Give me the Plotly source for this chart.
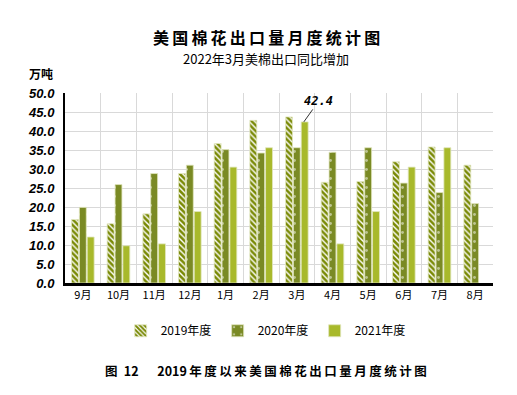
import plotly.graph_objects as go

months = ["9月", "10月", "11月", "12月", "1月", "2月", "3月", "4月", "5月", "6月", "7月", "8月"]
y2019 = [16.7, 15.6, 18.2, 28.8, 36.7, 42.8, 43.7, 26.5, 26.7, 31.9, 35.8, 31.0]
y2020 = [19.9, 25.9, 28.8, 31.0, 35.1, 34.2, 35.6, 34.4, 35.6, 26.3, 23.8, 20.9]
y2021 = [12.1, 9.8, 10.3, 18.8, 30.5, 35.6, 42.4, 10.3, 18.8, 30.5, 35.6, None]
series_names = ["2019年度", "2020年度", "2021年度"]
yticks = [0, 5, 10, 15, 20, 25, 30, 35, 40, 45, 50]

OLIVE = "#7a8a06"
DARK = "#7a8a24"
LIGHT = "#a8b92b"
EDGE = "rgba(225,230,190,1)"

TS = "\u2009"
title_text = TS.join("美国棉花出口量月度统计图")
caption_text = "图\u200212" + "\u3000\u2002" + "2019" + TS + TS.join("年度以来美国棉花出口量月度统计图")

fig = go.Figure()
fig.add_trace(go.Bar(
    x=months, y=y2019, name=series_names[0],
    marker=dict(color="white", line=dict(color=EDGE, width=0.8),
                pattern=dict(shape="\\", fgcolor=OLIVE, bgcolor="white", fgopacity=1,
                             size=4, solidity=0.65)),
))
fig.add_trace(go.Bar(
    x=months, y=y2020, name=series_names[1],
    marker=dict(color=DARK, line=dict(color=EDGE, width=0.8),
                pattern=dict(shape=".", fgcolor="white", bgcolor=DARK, size=9, solidity=0.08)),
))
fig.add_trace(go.Bar(
    x=months, y=y2021, name=series_names[2],
    marker=dict(color=LIGHT, line=dict(color=EDGE, width=0.8)),
))

fig.add_annotation(
    x="3月", y=y2021[6], xshift=7, text="42.4", showarrow=True,
    arrowhead=0, arrowwidth=1, arrowcolor="#333333", ax=15, ay=-21,
    font=dict(family="DejaVu Sans Mono", size=12, color="black", weight="bold", style="italic"),
)

fig.add_annotation(xref="paper", yref="paper", x=-0.089, y=1.105, xanchor="left", yanchor="middle",
                   text="<b>万吨</b>", showarrow=False,
                   font=dict(family="Noto Sans CJK SC", size=12, color="black"))
fig.add_annotation(xref="paper", yref="paper", x=0.47, y=1.295, xanchor="center", yanchor="middle",
                   text="<b>" + title_text + "</b>", showarrow=False,
                   font=dict(family="Noto Sans CJK SC", size=16, color="black"))
fig.add_annotation(xref="paper", yref="paper", x=0.47, y=1.182, xanchor="center", yanchor="middle",
                   text="2022年3月美棉出口同比增加", showarrow=False,
                   font=dict(family="Noto Sans CJK SC", size=13, color="black"))
fig.add_annotation(xref="paper", yref="paper", x=0.47, y=-0.458, xanchor="center", yanchor="middle",
                   text="<b>" + caption_text + "</b>", showarrow=False,
                   font=dict(family="Noto Sans CJK SC", size=12.5, color="black"))

# The page body has an 8px margin, so the figure is shrunk by 8px and margins offset accordingly
fig.update_layout(
    width=509, height=387,
    margin=dict(l=57, r=24, t=85, b=112),
    paper_bgcolor="white", plot_bgcolor="white",
    barmode="group", bargap=0.34, bargroupgap=0.12,
    showlegend=True,
    legend=dict(orientation="h", x=0.47, xanchor="center", y=-0.175, yanchor="top",
                font=dict(family="Noto Sans CJK SC", size=12, color="black"),
                itemwidth=30, entrywidth=52, tracegroupgap=0),
    xaxis=dict(type="category", tickson="boundaries", showgrid=True, gridcolor="#d9d9d9", gridwidth=1,
               ticks="", showline=True, linecolor="black", linewidth=3,
               tickfont=dict(family="Noto Sans CJK SC", size=11, color="black")),
    yaxis=dict(range=[0, 50], tickvals=yticks, ticktext=[f"{v:.1f}" for v in yticks],
               showgrid=True, gridcolor="#d9d9d9", gridwidth=1, zeroline=False,
               showline=True, linecolor="black", linewidth=2, ticks="", ticklabelstandoff=6,
               tickfont=dict(family="Liberation Sans", size=13, color="black", weight="bold", style="italic")),
)

fig.write_html("out.html")
